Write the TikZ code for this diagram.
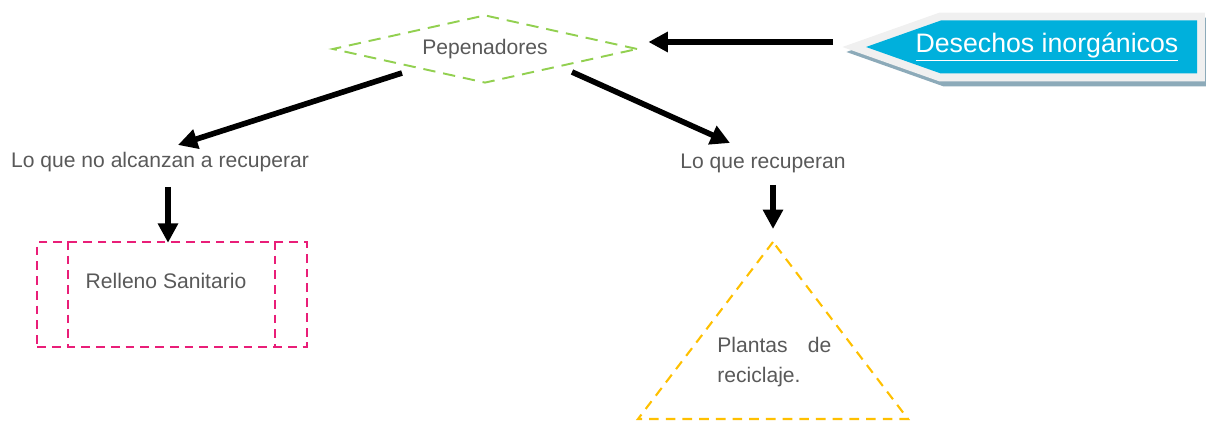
\documentclass[tikz,border=0pt]{standalone}
\usepackage{fontspec}
\setmainfont{Liberation Sans}
\usetikzlibrary{shapes.geometric, shapes.symbols, arrows.meta, positioning, calc}
\definecolor{verdepep}{RGB}{146,208,80}
\definecolor{rosarell}{RGB}{233,30,120}
\definecolor{naranjapl}{RGB}{255,192,0}
\definecolor{azulflecha}{RGB}{0,176,220}
\definecolor{bordeflecha}{RGB}{240,240,240}
\definecolor{sombraflecha}{RGB}{140,170,185}
\definecolor{textogris}{RGB}{89,89,89}
\tikzset{
  pepbox/.style={diamond, aspect=4.49, draw=verdepep, line width=1.1pt, dash pattern=on 7pt off 4.5pt,
                 minimum width=6.1cm, minimum height=1.36cm, inner sep=0pt},
  desbox/.style={signal, signal to=west, signal pointer angle=39, fill=azulflecha,
                 minimum width=6.62cm, minimum height=1.06cm, inner sep=0pt,
                 font=\fontsize{15.2}{18}\selectfont, text=white,
                 preaction={fill=sombraflecha, draw=sombraflecha, line width=9pt,
                            transform canvas={xshift=0.08cm, yshift=-0.1cm}},
                 preaction={draw=bordeflecha, line width=9pt}},
  rellbox/.style={rectangle, draw=rosarell, line width=1.4pt, dash pattern=on 5pt off 3.4pt,
                  minimum width=5.4cm, inner sep=0pt, text height=0.94cm, text depth=1.16cm},
  rellline/.style={draw=rosarell, line width=1.4pt, dash pattern=on 5pt off 3.4pt},
  plantline/.style={draw=naranjapl, line width=1.2pt, dash pattern=on 5.5pt off 4pt},
  plantbox/.style={inner sep=0pt, text width=2.28cm, align=justify},
  flecha/.style={-{Triangle[length=11pt, width=11pt]}, line width=3.2pt}
}
\begin{document}
\begin{tikzpicture}[x=0.02cm, y=-0.02cm,
    every node/.style={font=\fontsize{12}{17}\selectfont, text=textogris}]
  \useasboundingbox (0,0) rectangle (1206,421);
  \node[pepbox] (pep) at (485,49) {Pepenadores};
  \node[desbox, anchor=west] (desechos) at (865,47)
       {\makebox[5.12cm]{\hspace*{-0.88cm}\underline{Desechos inorgánicos}}};
  \node[anchor=base] (nollega) at (160,168) {Lo que no alcanzan a recuperar};
  \node[anchor=base] (recup) at (763,169) {Lo que recuperan};
  \node[rellbox] (rell) at (172,294.5) {\hspace*{-0.24cm}Relleno Sanitario};
  \draw[rellline] ([shift={(32,0)}]rell.north west) -- ([shift={(32,0)}]rell.south west);
  \draw[rellline] ([shift={(-33,0)}]rell.north east) -- ([shift={(-33,0)}]rell.south east);
  % triangulo de plantas
  \coordinate (apice) at (773,242);
  \coordinate (baseizq) at (638,419);
  \coordinate (baseder) at (908,419);
  \draw[plantline] (apice) -- (baseizq) -- (baseder) -- cycle;
  \node[plantbox, anchor=north west] (plantas) at (717,337) {Plantas de \mbox{reciclaje.}};
  % flechas
  \draw[flecha] ([shift={(-32,-5)}]desechos.west) -- ([shift={(10,-7)}]pep.east);
  \draw[flecha] ([shift={(-83,24)}]pep.center) -- ([shift={(18,-23)}]nollega.base);
  \draw[flecha] ([shift={(87,23)}]pep.center) -- ([shift={(-33,-26)}]recup.base);
  \draw[flecha] ([shift={(8,19)}]nollega.base) -- ([shift={(-4,2)}]rell.north);
  \draw[flecha] ([shift={(10,16)}]recup.base) -- ([shift={(0,-13)}]apice);
\end{tikzpicture}
\end{document}
